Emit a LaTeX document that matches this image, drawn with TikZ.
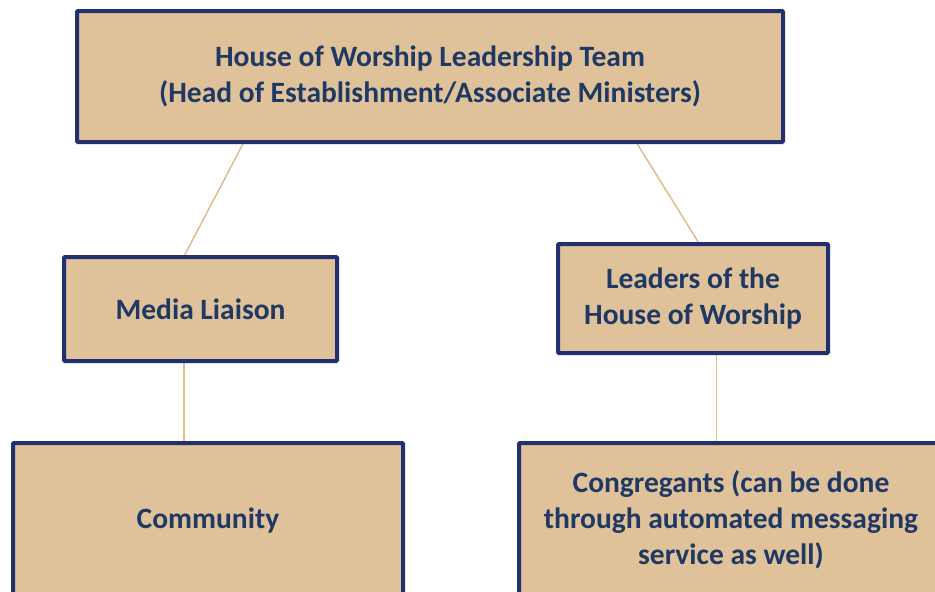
\documentclass[tikz,border=0pt]{standalone}
\usepackage{fontspec}
\setmainfont{Carlito}
\usepackage{xcolor}
\usepackage{tikz}
\usetikzlibrary{positioning,calc,backgrounds}

\definecolor{boxtan}{HTML}{DFC299}
\definecolor{boxnavy}{HTML}{23306F}
\definecolor{textnavy}{HTML}{1F3864}
\definecolor{linktan}{HTML}{DCBD8E}

\begin{document}
\begin{tikzpicture}[x=1pt, y=-1pt,
  orgbox/.style={draw=boxnavy, line width=4pt, fill=boxtan, rounded corners=1pt,
    text=textnavy, font=\fontsize{29.5}{36}\selectfont\bfseries, align=center,
    inner sep=0pt},
  link/.style={linktan, line width=1.5pt}]

% page frame
\useasboundingbox (0,0) rectangle (935,592);
\clip (0,0) rectangle (935,592);

% top level
\node[orgbox, minimum width=706pt, minimum height=131pt] (team) at (430,76.5)
  {House of Worship Leadership Team\\(Head of Establishment/Associate Ministers)};

% second level
\node[orgbox, minimum width=273pt, minimum height=104pt] (media) at (200.5,309)
  {Media Liaison};
\node[orgbox, minimum width=270pt, minimum height=109pt] (leaders) at (693,298.5)
  {Leaders of the\\House of Worship};

% third level (runs off the page)
\node[orgbox, minimum width=390pt, minimum height=154pt] (community) at (208,520)
  {Community};
\node[orgbox, minimum width=424pt, minimum height=154pt] (congregants) at (731,520)
  {Congregants (can be done\\through automated messaging\\service as well)};

% connectors, kept under the boxes
\begin{scope}[on background layer]
  \draw[link] ($(team.south west)!0.2365!(team.south east)$)
    -- ($(media.north west)!0.443!(media.north east)$);
  \draw[link] ($(team.south west)!0.792!(team.south east)$)
    -- ($(leaders.north west)!0.519!(leaders.north east)$);
  \draw[link] ($(media.south west)!0.44!(media.south east)$) coordinate (m)
    -- (m |- community.north);
  \draw[link] ($(leaders.south west)!0.585!(leaders.south east)$) coordinate (l)
    -- (l |- congregants.north);
\end{scope}

\end{tikzpicture}
\end{document}
